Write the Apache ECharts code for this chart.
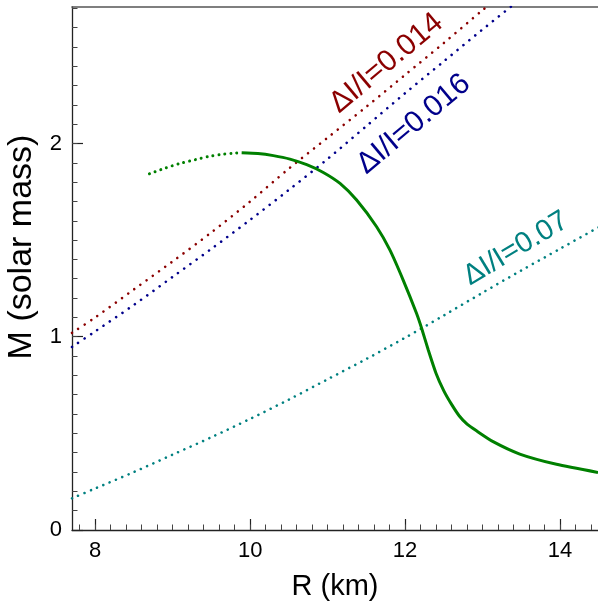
<!DOCTYPE html>
<html>
<head>
<meta charset="utf-8">
<script src="https://cdn.jsdelivr.net/npm/echarts@6/dist/echarts.min.js"></script>
<style>
  html, body { margin: 0; padding: 0; background: #fff; }
  #chart { width: 598px; height: 610px; }
</style>
</head>
<body>
<div id="chart"></div>
<script>
// Neutron-star mass–radius relation with curves of constant ΔI/I

// Mass-radius curve: dotted (unstable) branch and solid branch, R in km, M in solar masses
const mrDottedR = [8.70, 8.90, 9.09, 9.30, 9.48, 9.65, 9.80, 9.89];
const mrDottedM = [1.843, 1.872, 1.896, 1.917, 1.934, 1.944, 1.950, 1.952];
const mrSolidR = [9.89, 10.10, 10.30, 10.513, 10.73, 10.944, 11.16, 11.374, 11.632, 11.803, 11.975,
                  12.147, 12.216, 12.30, 12.40, 12.50, 12.60, 12.70, 12.80, 12.922, 13.136, 13.48, 13.954, 14.49];
const mrSolidM = [1.952, 1.948, 1.937, 1.919, 1.890, 1.850, 1.793, 1.707, 1.569, 1.449, 1.293,
                  1.121, 1.040, 0.930, 0.810, 0.720, 0.650, 0.590, 0.548, 0.513, 0.457, 0.393, 0.340, 0.298];

// Constant ΔI/I curves
const dI014R = [7.70, 8.0, 8.5, 9.0, 9.5, 10.0, 10.5, 11.0, 11.5, 12.0, 12.5, 13.0, 13.1];
const dI014M = [1.020, 1.100, 1.245, 1.390, 1.540, 1.700, 1.870, 2.030, 2.190, 2.355, 2.520, 2.690, 2.720];
const dI016R = [7.70, 8.0, 8.5, 9.0, 9.5, 10.0, 10.5, 11.0, 11.5, 12.0, 12.5, 13.0, 13.5];
const dI016M = [0.947, 1.028, 1.165, 1.310, 1.455, 1.605, 1.760, 1.920, 2.090, 2.260, 2.425, 2.590, 2.750];
const dI07R = [7.70, 8.0, 8.5, 9.0, 9.5, 10.0, 10.5, 11.0, 11.5, 12.0, 12.5, 13.0, 13.5, 14.0, 14.5];
const dI07M = [0.164, 0.215, 0.300, 0.390, 0.480, 0.575, 0.675, 0.780, 0.885, 0.995, 1.110, 1.228, 1.343, 1.455, 1.567];

// Curve labels
const curveLabels = ['ΔI/I=0.014', 'ΔI/I=0.016', 'ΔI/I=0.07'];

// Axis ticks and labels
const xMajorTicks = [8, 10, 12, 14];
const yMajorTicks = [0, 1, 2];
const xTitle = 'R (km)';
const yTitle = 'M (solar mass)';

const X_MIN = 7.70, X_MAX = 14.49, Y_MIN = 0, Y_MAX = 2.706;
const FONT = '"Liberation Sans", Arial, Helvetica, sans-serif';
const AXIS_COLOR = '#222';

function steps(from, to, step) {
  const out = [];
  for (let i = 0; ; i++) {
    const v = Math.round((from + i * step) * 1000) / 1000;
    if (v > to + 1e-9) break;
    out.push(v);
  }
  return out;
}
const xMinorTicks = steps(7.8, X_MAX, 0.2);
const yMinorTicks = steps(0.1, Y_MAX, 0.1);

function pairs(xs, ys) { return xs.map((x, i) => [x, ys[i]]); }

const chart = echarts.init(document.getElementById('chart'), null, { renderer: 'canvas' });

function dottedSeries(name, xs, ys, color, width, gap) {
  return {
    name, type: 'line', data: pairs(xs, ys),
    xAxisIndex: 0, yAxisIndex: 0,
    showSymbol: false, smooth: 0.3, clip: true,
    lineStyle: { color, width, type: [0.01, gap], cap: 'round' },
    silent: true, z: 3
  };
}

const baseX = { type: 'value', min: X_MIN, max: X_MAX, gridIndex: 0, splitLine: { show: false } };
const baseY = { type: 'value', min: Y_MIN, max: Y_MAX, gridIndex: 0, splitLine: { show: false } };

chart.setOption({
  animation: false,
  backgroundColor: '#fff',
  grid: { left: 72, right: 0, top: 7, bottom: 80, containLabel: false },
  xAxis: [
    Object.assign({}, baseX, {
      position: 'bottom',
      axisLine: { show: true, lineStyle: { color: AXIS_COLOR, width: 1.3 } },
      axisTick: { show: true, inside: true, length: 11, customValues: xMajorTicks, lineStyle: { color: AXIS_COLOR, width: 1.2 } },
      axisLabel: { show: true, customValues: xMajorTicks, margin: 10, color: '#000', fontSize: 22, fontFamily: FONT },
      name: xTitle, nameLocation: 'middle', nameGap: 42,
      nameTextStyle: { color: '#000', fontSize: 29, fontFamily: FONT }
    }),
    Object.assign({}, baseX, {
      position: 'bottom',
      axisLine: { show: false },
      axisTick: { show: true, inside: true, length: 5.5, customValues: xMinorTicks, lineStyle: { color: '#444', width: 1 } },
      axisLabel: { show: false }
    }),
    Object.assign({}, baseX, {
      position: 'top',
      axisLine: { show: true, lineStyle: { color: '#555', width: 1.6 } },
      axisTick: { show: false },
      axisLabel: { show: false }
    })
  ],
  yAxis: [
    Object.assign({}, baseY, {
      position: 'left',
      axisLine: { show: true, lineStyle: { color: AXIS_COLOR, width: 1.3 } },
      axisTick: { show: true, inside: true, length: 11, customValues: yMajorTicks, lineStyle: { color: AXIS_COLOR, width: 1.2 } },
      axisLabel: { show: true, customValues: yMajorTicks, margin: 10, color: '#000', fontSize: 22, fontFamily: FONT }
    }),
    Object.assign({}, baseY, {
      position: 'left',
      axisLine: { show: false },
      axisTick: { show: true, inside: true, length: 5.5, customValues: yMinorTicks, lineStyle: { color: '#444', width: 1 } },
      axisLabel: { show: false }
    })
  ],
  series: [
    dottedSeries('ΔI/I=0.014', dI014R, dI014M, '#8b0000', 2.6, 7.6),
    dottedSeries('ΔI/I=0.016', dI016R, dI016M, '#00008b', 2.6, 7.6),
    dottedSeries('ΔI/I=0.07', dI07R, dI07M, '#008080', 2.6, 6.8),
    dottedSeries('M-R (dotted)', mrDottedR, mrDottedM, '#008000', 3, 6.0),
    {
      name: 'M-R', type: 'line', data: pairs(mrSolidR, mrSolidM),
      xAxisIndex: 0, yAxisIndex: 0,
      showSymbol: false, smooth: 0.2, clip: true,
      lineStyle: { color: '#008000', width: 3 }, silent: true, z: 4
    }
  ]
});

// Curve annotations, placed alongside each ΔI/I curve
const labelPlacement = [
  { at: [11.76, 2.415], angle: 40, color: '#8b0000', size: 30 },
  { at: [12.11, 2.100], angle: 40, color: '#00008b', size: 30 },
  { at: [13.43, 1.455], angle: 31, color: '#008080', size: 29 }
];
const graphics = labelPlacement.map((p, i) => {
  const px = chart.convertToPixel({ xAxisIndex: 0, yAxisIndex: 0 }, p.at);
  return {
    type: 'text', x: px[0], y: px[1], rotation: p.angle * Math.PI / 180, z: 10,
    style: { text: curveLabels[i], fill: p.color, font: p.size + 'px ' + FONT, align: 'center', verticalAlign: 'middle' }
  };
});
graphics.push({
  type: 'text', x: 22, y: 247, rotation: Math.PI / 2, z: 10,
  style: { text: yTitle, fill: '#000', font: '34px ' + FONT, align: 'center', verticalAlign: 'middle' }
});
chart.setOption({ graphic: graphics });
</script>
</body>
</html>
